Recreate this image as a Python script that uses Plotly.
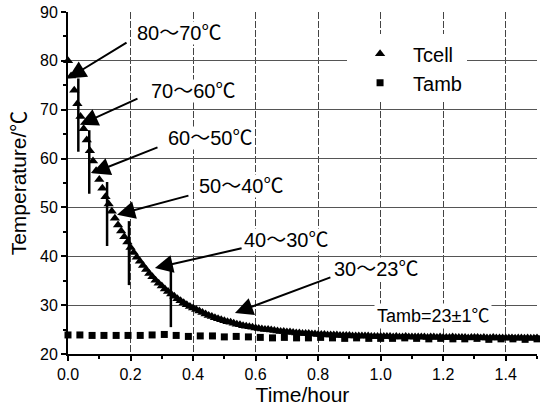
import plotly.graph_objects as go

# ---------------- data ----------------
t_cell = [0.00, 0.01, 0.02, 0.03, 0.04, 0.05, 0.06, 0.07, 0.08, 0.09,
          0.10, 0.11, 0.12, 0.13, 0.14, 0.15, 0.16, 0.17, 0.18, 0.19,
          0.20, 0.21, 0.22, 0.23, 0.24, 0.25, 0.26, 0.27, 0.28, 0.29,
          0.30, 0.31, 0.32, 0.33, 0.34, 0.35, 0.36, 0.37, 0.38, 0.39,
          0.40, 0.41, 0.42, 0.43, 0.44, 0.45, 0.46, 0.47, 0.48, 0.49,
          0.50, 0.51, 0.52, 0.53, 0.54, 0.55, 0.56, 0.57, 0.58, 0.59,
          0.60, 0.61, 0.62, 0.63, 0.64, 0.65, 0.66, 0.67, 0.68, 0.69,
          0.70, 0.71, 0.72, 0.73, 0.74, 0.75, 0.76, 0.77, 0.78, 0.79,
          0.80, 0.81, 0.82, 0.83, 0.84, 0.85, 0.86, 0.87, 0.88, 0.89,
          0.90, 0.91, 0.92, 0.93, 0.94, 0.95, 0.96, 0.97, 0.98, 0.99,
          1.00,
          1.01, 1.02, 1.03, 1.04, 1.05, 1.06, 1.07, 1.08, 1.09, 1.10,
          1.11, 1.12, 1.13, 1.14, 1.15, 1.16, 1.17, 1.18, 1.19, 1.20,
          1.21, 1.22, 1.23, 1.24, 1.25, 1.26, 1.27, 1.28, 1.29, 1.30,
          1.31, 1.32, 1.33, 1.34, 1.35, 1.36, 1.37, 1.38, 1.39, 1.40,
          1.41, 1.42, 1.43, 1.44, 1.45, 1.46, 1.47, 1.48, 1.49, 1.50]

T_cell = [80.0, 76.9, 74.0, 71.2, 68.6, 66.1, 63.8, 61.6, 59.5, 57.5,
          55.7, 53.9, 52.2, 50.7, 49.2, 47.8, 46.4, 45.2, 44.0, 42.9,
          41.8, 40.8, 39.8, 39.0, 38.1, 37.3, 36.5, 35.8, 35.1, 34.5,
          33.9, 33.3, 32.8, 32.3, 31.8, 31.3, 30.9, 30.5, 30.1, 29.7,
          29.4, 29.1, 28.8, 28.5, 28.2, 27.9, 27.7, 27.4, 27.2, 27.0,
          26.8, 26.6, 26.5, 26.3, 26.1, 26.0, 25.8, 25.7, 25.6, 25.5,
          25.3, 25.2, 25.1, 25.0, 25.0, 24.9, 24.8, 24.7, 24.6, 24.6,
          24.5, 24.5, 24.4, 24.3, 24.3, 24.2, 24.2, 24.2, 24.1, 24.1,
          24.0, 24.0, 24.0, 23.9, 23.9, 23.9, 23.9, 23.8, 23.8, 23.8,
          23.8, 23.7, 23.7, 23.7, 23.7, 23.7, 23.7, 23.6, 23.6, 23.6,
          23.6,
          23.6, 23.6, 23.6, 23.5, 23.6, 23.5, 23.5, 23.6, 23.5, 23.5,
          23.5, 23.5, 23.5, 23.5, 23.4, 23.5, 23.5, 23.4, 23.5, 23.4,
          23.4, 23.4, 23.5, 23.4, 23.4, 23.4, 23.4, 23.3, 23.4, 23.4,
          23.4, 23.3, 23.4, 23.3, 23.3, 23.4, 23.3, 23.3, 23.3, 23.3,
          23.3, 23.3, 23.2, 23.3, 23.3, 23.2, 23.3, 23.2, 23.2, 23.3]

t_amb = [0.000, 0.038, 0.077, 0.115, 0.154, 0.192, 0.231, 0.269, 0.308, 0.346,
         0.385, 0.423, 0.462, 0.500, 0.538, 0.577, 0.615, 0.654, 0.692, 0.731,
         0.769, 0.808, 0.846, 0.885, 0.923, 0.962, 1.000, 1.038, 1.077, 1.115,
         1.154, 1.192, 1.231, 1.269, 1.308, 1.346, 1.385, 1.423, 1.462, 1.500]

T_amb = [23.9, 23.9, 23.8, 23.8, 23.8, 23.8, 23.8, 23.9, 24.0, 23.8,
         23.6, 23.7, 23.7, 23.5, 23.6, 23.5, 23.4, 23.3, 23.4, 23.3,
         23.3, 23.4, 23.3, 23.2, 23.3, 23.2, 23.2, 23.2, 23.3, 23.2,
         23.1, 23.2, 23.1, 23.1, 23.2, 23.0, 23.1, 23.1, 23.0, 23.1]

# range marker bars (time, upper temp, lower temp)
bar_t = [0.033, 0.068, 0.125, 0.195, 0.329]
bar_top = [76.4, 65.8, 55.2, 47.2, 38.2]
bar_bottom = [61.4, 52.8, 42.1, 34.1, 25.5]

# arrows: tip and tail points in data units
arrow_tip_t = [0.0, 0.038, 0.077, 0.157, 0.278, 0.534]
arrow_tip_T = [76.4, 66.9, 57.0, 48.5, 37.6, 28.4]
arrow_tail_t = [0.192, 0.227, 0.291, 0.390, 0.560, 0.844]
arrow_tail_T = [83.9, 72.4, 62.4, 52.5, 41.7, 35.8]

range_labels = ["80～70℃", "70～60℃", "60～50℃", "50～40℃", "40～30℃", "30～23℃"]
amb_label = "Tamb=23±1℃"

x_ticks = [0.0, 0.2, 0.4, 0.6, 0.8, 1.0, 1.2, 1.4]
x_ticklabels = ["0.0", "0.2", "0.4", "0.6", "0.8", "1.0", "1.2", "1.4"]
y_ticks = [20, 30, 40, 50, 60, 70, 80, 90]

# ---------------- layout positions ----------------
label_pos = [(0.358, 85.7), (0.400, 73.8), (0.455, 64.2),
             (0.556, 54.4), (0.700, 43.4), (0.988, 37.4)]
amb_label_pos = (1.167, 27.8)

FONT = "Liberation Sans, Arial, Noto Sans CJK JP, sans-serif"

fig = go.Figure()

fig.add_trace(go.Scatter(
    x=t_cell, y=T_cell, mode="markers", name="Tcell",
    marker=dict(symbol="triangle-up", size=9, color="black"),
    cliponaxis=False))
fig.add_trace(go.Scatter(
    x=t_amb, y=T_amb, mode="markers", name="Tamb",
    marker=dict(symbol="square", size=7, color="black"),
    cliponaxis=False))

bx, by = [], []
for t, a, b in zip(bar_t, bar_top, bar_bottom):
    bx += [t, t, None]
    by += [a, b, None]
fig.add_trace(go.Scatter(x=bx, y=by, mode="lines", showlegend=False,
                         line=dict(color="black", width=2.5), hoverinfo="skip"))

annotations = []
for tx, ty, ax, ay in zip(arrow_tip_t, arrow_tip_T, arrow_tail_t, arrow_tail_T):
    annotations.append(dict(
        x=tx, y=ty, ax=ax, ay=ay, xref="x", yref="y", axref="x", ayref="y",
        text="", showarrow=True, arrowhead=2, arrowsize=1.8, arrowwidth=2,
        arrowcolor="black"))
for txt, (px, py) in zip(range_labels, label_pos):
    annotations.append(dict(
        x=px, y=py, xref="x", yref="y", text=txt, showarrow=False,
        font=dict(family=FONT, size=20, color="black"),
        bgcolor="white", borderpad=0))
annotations.append(dict(
    x=amb_label_pos[0], y=amb_label_pos[1], xref="x", yref="y", text=amb_label,
    showarrow=False, font=dict(family=FONT, size=18, color="black"),
    bgcolor="white", borderpad=2))

fig.update_layout(
    width=540, height=406,
    margin=dict(l=68, r=3, t=12, b=52),
    paper_bgcolor="white", plot_bgcolor="white",
    font=dict(family=FONT, size=15, color="black"),
    showlegend=True,
    legend=dict(x=0.595, y=0.935, xanchor="left", yanchor="top",
                bgcolor="white", borderwidth=0, itemwidth=56,
                font=dict(family=FONT, size=20, color="black")),
    annotations=annotations,
)

fig.update_xaxes(
    range=[0, 1.5], tickvals=x_ticks, ticktext=x_ticklabels,
    showline=True, linecolor="black", linewidth=2,
    ticks="outside", ticklen=5, tickwidth=1.5, tickcolor="black",
    minor=dict(dtick=0.1, ticks="outside", ticklen=3, tickcolor="black", showgrid=False),
    showgrid=True, gridcolor="#444444", gridwidth=1, griddash="7px,2px",
    zeroline=False, mirror=False,
    title=dict(text="Time/hour", font=dict(family=FONT, size=21), standoff=4),
    tickfont=dict(family=FONT, size=16))

fig.update_yaxes(
    range=[20, 90], tickvals=y_ticks,
    showline=True, linecolor="black", linewidth=2,
    ticks="outside", ticklen=5, tickwidth=1.5, tickcolor="black",
    minor=dict(dtick=5, ticks="outside", ticklen=3, tickcolor="black", showgrid=False),
    showgrid=True, gridcolor="#555555", gridwidth=1,
    zeroline=False, mirror=False,
    title=dict(text="Temperature/℃", font=dict(family=FONT, size=21), standoff=8),
    tickfont=dict(family=FONT, size=16))

fig.write_html("out.html")
